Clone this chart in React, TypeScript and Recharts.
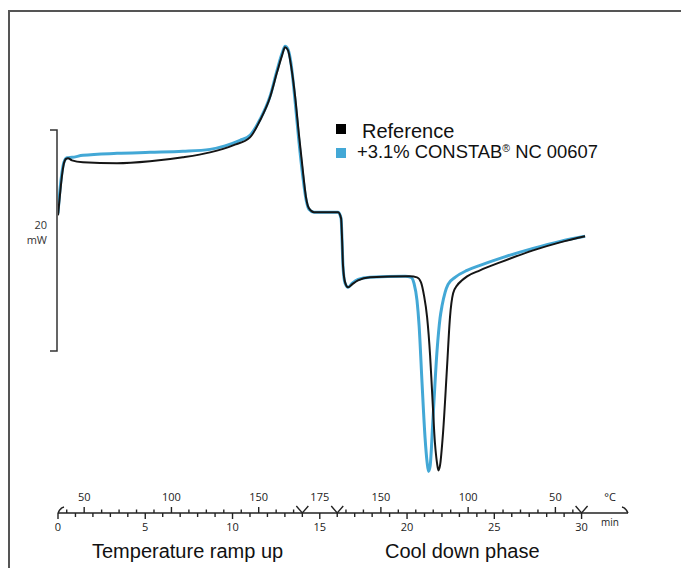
import { Line, LineChart, XAxis, YAxis } from 'recharts';

// DSC curves, time in min, heat flow in mW (relative offset)
const referenceTimes = [0, 0.11, 0.23, 0.34, 0.46, 0.57, 0.8, 1.43, 3.38, 5.27, 7.16, 8.71, 10.03, 11.0, 11.58, 12.15, 12.55, 12.84, 13.01, 13.18, 13.35, 13.58, 13.81, 14.04, 14.21, 14.38, 14.67, 16.05, 16.22, 16.28, 16.33, 16.45, 16.62, 16.85, 17.19, 17.88, 20.17, 20.57, 20.8, 20.97, 21.15, 21.32, 21.43, 21.6, 21.72, 21.8, 21.89, 22.06, 22.29, 22.46, 22.64, 22.87, 23.15, 23.44, 24.18, 25.33, 27.22, 28.77, 30.2];
const referenceValues = [27.12, 28.92, 30.72, 31.8, 32.21, 32.25, 32.07, 31.89, 31.8, 31.98, 32.34, 32.79, 33.42, 34.14, 35.68, 37.75, 40.0, 41.53, 42.25, 41.98, 40.63, 37.93, 34.32, 30.99, 28.74, 27.75, 27.39, 27.39, 26.85, 24.86, 22.61, 21.08, 20.63, 20.9, 21.26, 21.53, 21.62, 21.53, 21.08, 19.91, 17.93, 14.5, 11.35, 6.58, 4.77, 4.14, 4.59, 7.48, 13.42, 17.93, 20.09, 20.81, 21.26, 21.62, 22.16, 22.88, 23.96, 24.68, 25.23];

const constabTimes = [0, 0.11, 0.23, 0.34, 0.52, 0.8, 1.43, 3.38, 5.27, 7.16, 8.71, 9.57, 10.43, 11.0, 11.58, 12.15, 12.55, 12.84, 13.01, 13.18, 13.35, 13.58, 13.81, 14.04, 14.21, 14.38, 14.67, 16.05, 16.22, 16.28, 16.33, 16.45, 16.62, 16.85, 17.19, 17.88, 19.89, 20.23, 20.4, 20.57, 20.69, 20.86, 21.03, 21.15, 21.23, 21.32, 21.49, 21.72, 21.89, 22.01, 22.18, 22.35, 22.75, 23.44, 24.18, 25.33, 27.22, 28.77, 30.2];
const constabValues = [27.3, 29.37, 30.99, 31.89, 32.3, 32.34, 32.52, 32.7, 32.79, 32.88, 33.06, 33.38, 33.87, 34.32, 35.77, 37.84, 40.18, 41.71, 42.34, 42.07, 40.81, 37.48, 33.69, 30.45, 28.56, 27.66, 27.39, 27.39, 26.85, 24.68, 22.52, 20.99, 20.63, 20.99, 21.35, 21.53, 21.62, 21.53, 20.99, 19.46, 17.21, 11.98, 7.12, 4.86, 4.05, 4.5, 8.92, 14.95, 17.84, 19.01, 20.18, 20.9, 21.53, 22.16, 22.61, 23.24, 24.14, 24.77, 25.23];

// axis ticks
const minuteTicks = [0, 1, 2, 3, 4, 5, 6, 7, 8, 9, 10, 11, 12, 13, 14, 15, 16, 17, 18, 19, 20, 21, 22, 23, 24, 25, 26, 27, 28, 29, 30];
const minuteLabels = [0, 5, 10, 15, 20, 25, 30];
const tempTickTimes = [0.5, 1.5, 2.5, 3.5, 4.5, 5.5, 6.5, 7.5, 8.5, 9.5, 10.5, 11.5, 12.5, 13.5, 16.5, 17.5, 18.5, 19.5, 20.5, 21.5, 22.5, 23.5, 24.5, 25.5, 26.5, 27.5, 28.5, 29.5];
const tempLabelTimes = [1.5, 6.5, 11.5, 15, 18.5, 23.5, 28.5];
const tempLabels = ['50', '100', '150', '175', '150', '100', '50'];
const breakTimes = [14, 16, 30];
const AXIS_END = 32.66;

const referenceData = referenceTimes.map((t, i) => ({ t, v: referenceValues[i] }));
const constabData = constabTimes.map((t, i) => ({ t, v: constabValues[i] }));
const allTicks = Array.from(new Set([...minuteTicks, ...tempTickTimes, ...tempLabelTimes, AXIS_END])).sort((a, b) => a - b);

const INK = '#222';
const BLUE = '#43a8d6';
const TICK_FONT = '"Open Sans", "DejaVu Sans", sans-serif';
const LABEL_FONT = '"Liberation Sans", Arial, sans-serif';

function AxisTick(props: any) {
  const { x, y, payload } = props;
  const v = payload.value;
  const parts: any[] = [];
  if (minuteTicks.includes(v)) {
    const major = minuteLabels.includes(v);
    parts.push(<line key="m" x1={x} y1={y} x2={x} y2={y + (major ? 6 : 4)} stroke={INK} strokeWidth={1.4} />);
    if (major) {
      parts.push(
        <text key="ml" x={x} y={y + 18} textAnchor="middle" fontSize={11} fontFamily={TICK_FONT} fill={INK}>
          {v}
        </text>
      );
    }
  }
  if (tempTickTimes.includes(v)) {
    const labelled = tempLabelTimes.includes(v);
    parts.push(<line key="t" x1={x} y1={y} x2={x} y2={y - (labelled ? 6 : 3.5)} stroke={INK} strokeWidth={1.4} />);
  }
  const li = tempLabelTimes.indexOf(v);
  if (li >= 0) {
    parts.push(
      <text key="tl" x={x} y={y - 12} textAnchor="middle" fontSize={11} fontFamily={TICK_FONT} fill={INK}>
        {tempLabels[li]}
      </text>
    );
  }
  if (breakTimes.includes(v)) {
    parts.push(<polyline key="b" points={`${x - 6},${y - 7} ${x},${y} ${x + 6},${y - 7}`} fill="none" stroke={INK} strokeWidth={1.4} />);
  }
  if (v === 0) {
    parts.push(<path key="la" d={`M${x},${y} Q${x + 2},${y - 5} ${x + 6},${y - 6}`} fill="none" stroke={INK} strokeWidth={1.4} />);
  }
  if (v === AXIS_END) {
    parts.push(<path key="ra" d={`M${x},${y} Q${x - 2},${y - 5} ${x - 6},${y - 6}`} fill="none" stroke={INK} strokeWidth={1.4} />);
    parts.push(
      <text key="c" x={x - 18} y={y - 12} textAnchor="middle" fontSize={11} fontFamily={TICK_FONT} fill={INK}>
        °C
      </text>
    );
    parts.push(
      <text key="mn" x={x - 18} y={y + 13} textAnchor="middle" fontSize={10} fontFamily={TICK_FONT} fill={INK}>
        min
      </text>
    );
  }
  return <g>{parts}</g>;
}

export default function App() {
  return (
    <div style={{ position: 'fixed', left: 0, top: 0, width: 681, height: 568, overflow: 'hidden', background: '#fff' }}>
      <div
        style={{
          position: 'absolute',
          left: 8,
          top: 10,
          width: 700,
          height: 600,
          borderLeft: '2px solid #555',
          borderTop: '2px solid #555',
        }}
      />
      <LineChart width={681} height={568} margin={{ top: 24.6, right: 53, bottom: 15, left: 58 }} style={{ position: 'absolute', left: 0, top: 0 }}>
        <XAxis
          dataKey="t"
          type="number"
          domain={[0, AXIS_END]}
          ticks={allTicks}
          interval={0}
          height={40}
          tickSize={0}
          tickMargin={0}
          tickLine={false}
          axisLine={{ stroke: INK, strokeWidth: 1.5 }}
          tick={<AxisTick />}
          allowDataOverflow
        />
        <YAxis type="number" domain={[0.3, 44.3]} hide allowDataOverflow />
        <Line data={constabData} dataKey="v" type="monotone" stroke={BLUE} strokeWidth={3} dot={false} isAnimationActive={false} />
        <Line data={referenceData} dataKey="v" type="monotone" stroke="#151515" strokeWidth={2} dot={false} isAnimationActive={false} />
      </LineChart>
      <svg width={681} height={568} style={{ position: 'absolute', left: 0, top: 0, pointerEvents: 'none' }}>
        <path d="M50,130 L57,130 L57,351 L50,351" fill="none" stroke="#333" strokeWidth={1.5} />
        <text x={47} y={229} textAnchor="end" fontSize={11} fontFamily={TICK_FONT} fill="#333">20</text>
        <text x={47} y={244} textAnchor="end" fontSize={11} fontFamily={TICK_FONT} fill="#333">mW</text>
        <rect x={336} y={124} width={10} height={10} fill="#000" />
        <text x={362} y={138} fontSize={20} fontFamily={LABEL_FONT} fill="#111">Reference</text>
        <rect x={336} y={148} width={10} height={10} fill={BLUE} />
        <text x={357} y={158} fontSize={18.4} fontFamily={LABEL_FONT} fill="#111">
          +3.1% CONSTAB<tspan fontSize={10.5} dy={-6}>®</tspan>
          <tspan dy={6}> NC 00607</tspan>
        </text>
        <text x={92} y={558} fontSize={20} fontFamily={LABEL_FONT} fill="#111">Temperature ramp up</text>
        <text x={385} y={558} fontSize={20} fontFamily={LABEL_FONT} fill="#111">Cool down phase</text>
      </svg>
    </div>
  );
}
